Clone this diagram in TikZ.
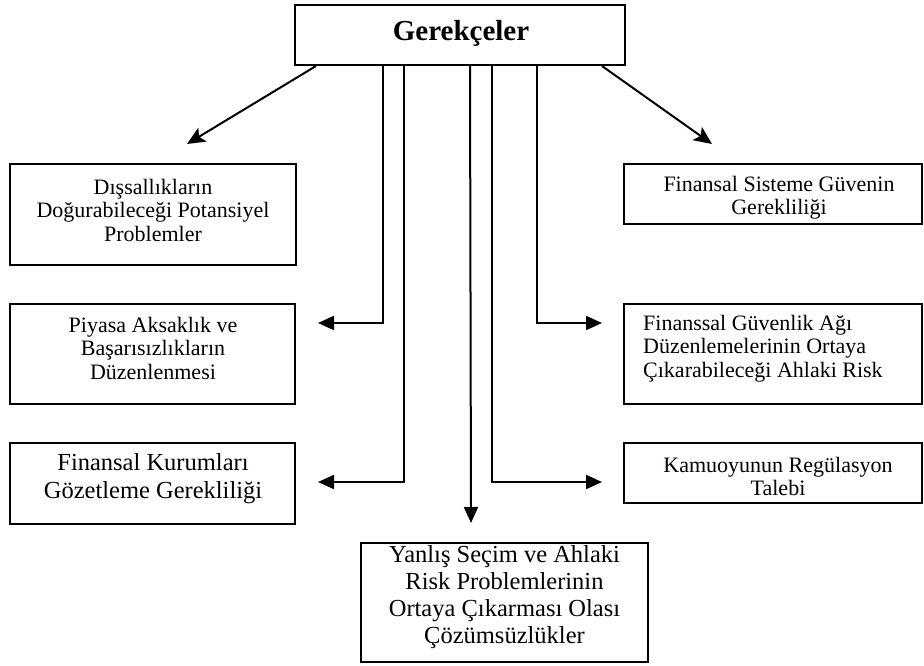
\documentclass[tikz,border=0pt]{standalone}
\usepackage{fontspec}
\setmainfont{Liberation Serif}
\usetikzlibrary{arrows.meta}
\tikzset{
  boxnode/.style={draw, line width=2pt, rectangle, inner sep=0pt},
  txt/.style={inner sep=0pt, align=center, font=\fontsize{22pt}{23.5pt}\selectfont},
  bigtxt/.style={inner sep=0pt, align=center, font=\fontsize{24.5pt}{27pt}\selectfont},
  conn/.style={line width=2pt, -{Triangle[length=16pt,width=14pt]}},
  diag/.style={line width=2pt, -{Stealth[length=18pt,width=16pt,inset=4pt]}}
}
\begin{document}
\begin{tikzpicture}[x=1pt,y=-1pt]
\useasboundingbox (0,0) rectangle (924,666);
% boxes
\node[boxnode, minimum width=330pt, minimum height=60pt] (top) at (460,35) {};
\node[inner sep=0pt, font=\fontsize{29pt}{30pt}\selectfont\bfseries] (toptxt) at (461,33) {Gerekçeler};

\node[boxnode, minimum width=286pt, minimum height=101pt] (l1) at (153,214.5) {};
\node[txt] (l1t) at (153,210) {Dışsallıkların\\Doğurabileceği Potansiyel\\Problemler};

\node[boxnode, minimum width=285pt, minimum height=100pt] (l2) at (152.5,354) {};
\node[txt] (l2t) at (153,348) {Piyasa Aksaklık ve\\Başarısızlıkların\\Düzenlenmesi};

\node[boxnode, minimum width=285pt, minimum height=81pt] (l3) at (152.5,483.5) {};
\node[bigtxt, font=\fontsize{24.5pt}{28pt}\selectfont] (l3t) at (153,479) {Finansal Kurumları\\Gözetleme Gerekliliği};

\node[boxnode, minimum width=298pt, minimum height=60pt] (r1) at (773,194) {};
\node[txt] (r1t) at (779,197.5) {Finansal Sisteme Güvenin\\Gerekliliği};

\node[boxnode, minimum width=298pt, minimum height=100pt] (r2) at (773,354) {};
\node[txt, align=left, anchor=west] (r2t) at (643,348.5) {Finanssal Güvenlik Ağı\\Düzenlemelerinin Ortaya\\Çıkarabileceği Ahlaki Risk};

\node[boxnode, minimum width=298pt, minimum height=60pt] (r3) at (773,473) {};
\node[txt] (r3t) at (778,476.5) {Kamuoyunun Regülasyon\\Talebi};

\node[boxnode, minimum width=287pt, minimum height=119pt] (bot) at (504.5,602.5) {};
\node[bigtxt] (bott) at (504.5,597) {Yanlış Seçim ve Ahlaki\\Risk Problemlerinin\\Ortaya Çıkarması Olası\\Çözümsüzlükler};

% free ends of connectors
\coordinate (e1) at (187,144);
\coordinate (e2) at (712,144);
\coordinate (e3) at (318,323);
\coordinate (e4) at (318,482);
\coordinate (e5) at (471,523);
\coordinate (e6) at (602,482);
\coordinate (e7) at (602,323);

% connectors
\draw[diag] ([xshift=22pt]top.south west) -- (e1);
\draw[diag] ([xshift=308pt]top.south west) -- (e2);
\draw[conn] ([xshift=89pt]top.south west) |- (e3);
\draw[conn] ([xshift=110pt]top.south west) |- (e4);
\draw[conn] ([xshift=176pt]top.south west) -- (e5);
\draw[conn] ([xshift=198pt]top.south west) |- (e6);
\draw[conn] ([xshift=243pt]top.south west) |- (e7);
\end{tikzpicture}
\end{document}
